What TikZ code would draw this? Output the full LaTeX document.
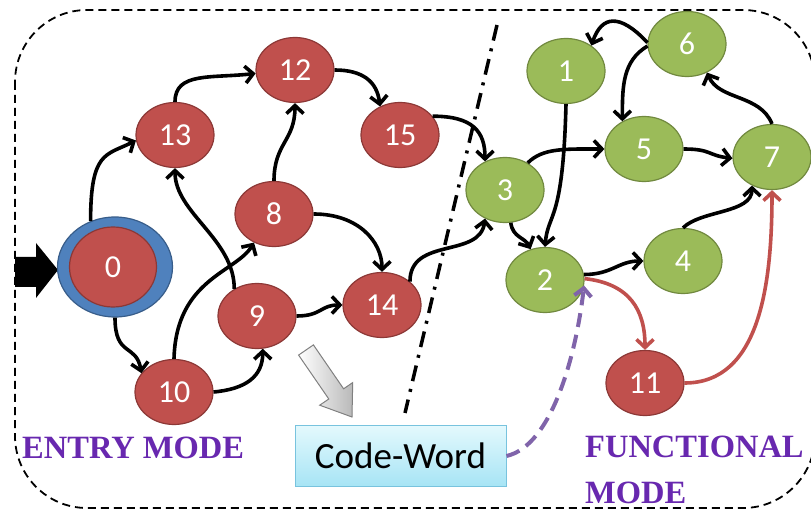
\documentclass[tikz,border=0pt]{standalone}
\usepackage{fontspec}
\usetikzlibrary{shapes.geometric,arrows.meta}
\newfontfamily\nfont{Carlito}
\newfontfamily\mfont{Liberation Serif}
\definecolor{redfill}{RGB}{192,80,77}
\definecolor{redline}{RGB}{140,56,54}
\definecolor{grnfill}{RGB}{155,187,89}
\definecolor{grnline}{RGB}{113,137,63}
\definecolor{bluefill}{RGB}{79,129,189}
\definecolor{blueline}{RGB}{56,93,138}
\definecolor{modepurple}{RGB}{104,40,175}
\definecolor{dashpurple}{RGB}{128,100,170}
\definecolor{cwtop}{RGB}{228,249,253}
\definecolor{cwbot}{RGB}{166,228,245}
\definecolor{cwline}{RGB}{120,195,222}
\begin{document}
\begin{tikzpicture}[x=1pt,y=-1pt,
  st/.style={ellipse,inner sep=0pt,minimum width=78pt,minimum height=65pt,line width=1.2pt,
    text=white,font=\nfont\fontsize{32}{32}\selectfont},
  rednode/.style={st,fill=redfill,draw=redline},
  grnnode/.style={st,fill=grnfill,draw=grnline},
  edge/.style={line width=3.6pt,-{Straight Barb[length=8pt,width=17pt]}},
  redge/.style={edge,draw=redfill},
  modelabel/.style={inner sep=0pt,text=modepurple,font=\mfont\bfseries\fontsize{32.5}{32.5}\selectfont}
]
\useasboundingbox (0,0) rectangle (811,510);
% border
\draw[line width=1.8pt,dash pattern=on 8pt off 5pt,rounded corners=72pt] (15,10) rectangle (815,508);
% dash-dot separator
\draw[line width=3.5pt,dash pattern=on 16pt off 8pt on 3pt off 8pt] (497,25) -- (405,413);
% entry arrow
\fill[black] (15,257) -- (36,257) -- (36,243) -- (58,270) -- (36,298) -- (36,287) -- (15,287) -- cycle;
% nodes
\node[ellipse,inner sep=0pt,minimum width=115pt,minimum height=100pt,fill=bluefill,draw=blueline,line width=1.2pt] (o0) at (115,267) {};
\node[rednode,minimum width=87pt,minimum height=80pt] (n0) at (113,267) {0};
\node[rednode] (n13) at (175,135) {13};
\node[rednode] (n12) at (295,70) {12};
\node[rednode] (n15) at (400,135) {15};
\node[rednode] (n8) at (274,214) {8};
\node[rednode] (n9) at (257,316) {9};
\node[rednode] (n10) at (174,392) {10};
\node[rednode] (n14) at (382,305) {14};
\node[grnnode] (n3) at (505,190) {3};
\node[grnnode] (n1) at (566,71) {1};
\node[grnnode] (n6) at (687,44) {6};
\node[grnnode] (n5) at (644,149) {5};
\node[grnnode] (n7) at (772,157) {7};
\node[grnnode] (n2) at (545,280) {2};
\node[grnnode] (n4) at (683,261) {4};
\node[rednode] (n11) at (645,383) {11};
% code word
\node[draw=cwline,line width=1pt,top color=cwtop,bottom color=cwbot,minimum width=211pt,minimum height=61pt,inner sep=0pt,
  font=\nfont\fontsize{37}{37}\selectfont] (cw) at (400.5,456) {Code-Word};
% gray arrow
\draw[draw=gray,line width=1pt,left color=white,right color=gray!55]
  (313.4,344.9) -- (343.6,388.8) -- (352.7,382.6) -- (352,417) -- (319.7,405.2) -- (328.8,399.0) -- (298.6,355.1) -- cycle;
% labels
\node[modelabel,anchor=base west] (lentry) at (22,458) {ENTRY MODE};
\node[modelabel,anchor=base west] (lfunc) at (585,457) {FUNCTIONAL};
\node[modelabel,anchor=base west] (lmode) at (585,503) {MODE};
% edges
\draw[edge] (o0.118) .. controls +(0,-70) and +(-30,15) .. (n13.188);
\draw[edge] (o0.south) .. controls +(0,40) and +(-5,-30) .. (n10.150);
\draw[edge] (n13.north) .. controls +(0,-30) and +(-45,5) .. (n12.185);
\draw[edge] (n12.east) .. controls +(28,0) and +(-3,-25) .. (n15.125);
\draw[edge] (n8.north) .. controls +(0,-38) and +(0,38) .. (n12.south);
\draw[edge] (n9.130) .. controls +(0,-50) and +(0,45) .. (n13.south);
\draw[edge] (n10.north) .. controls +(2,-80) and +(-18,30) .. (n8.235);
\draw[edge] (n10.east) .. controls +(32,-3) and +(0,28) .. (n9.-80);
\draw[edge] (n8.east) .. controls +(45,0) and +(0,-30) .. (n14.north);
\draw[edge] (n9.east) .. controls +(25,0) and +(-22,0) .. (n14.west);
\draw[edge] (n14.40) .. controls +(0,-45) and +(-5,40) .. (n3.235);
\draw[edge] (n15.30) .. controls +(40,0) and +(0,-30) .. (n3.125);
\draw[edge] (n3.50) .. controls +(15,-15) and +(-40,0) .. (n5.west);
\draw[edge] (n3.-80) .. controls +(2,15) and +(-6,-12) .. (n2.115);
\draw[edge] (n1.south) .. controls +(-3,120) and +(3,-35) .. (n2.north);
\draw[edge] (n6.178) .. controls +(-28,-30) and +(10,-30) .. (n1.45);
\draw[edge] (n6.183) .. controls +(-25,15) and +(0,-35) .. (n5.128);
\draw[edge] (n5.east) .. controls +(28,0) and +(-25,-3) .. (n7.182);
\draw[edge] (n7.north) .. controls +(-12,-30) and +(12,28) .. (n6.-55);
\draw[edge] (n4.north) .. controls +(18,-18) and +(0,28) .. (n7.235);
\draw[edge] (n2.8) .. controls +(28,0) and +(-25,0) .. (n4.west);
\draw[redge] (n2.2) .. controls +(45,5) and +(0,-40) .. (n11.north);
\draw[redge] (n11.east) .. controls +(75,0) and +(0,95) .. (n7.south);
\draw[line width=4pt,draw=dashpurple,dash pattern=on 14pt off 8pt,-{Straight Barb[length=8pt,width=17pt]}]
  (cw.east) .. controls +(45,-10) and +(-8,70) .. (n2.-8);
\end{tikzpicture}
\end{document}
